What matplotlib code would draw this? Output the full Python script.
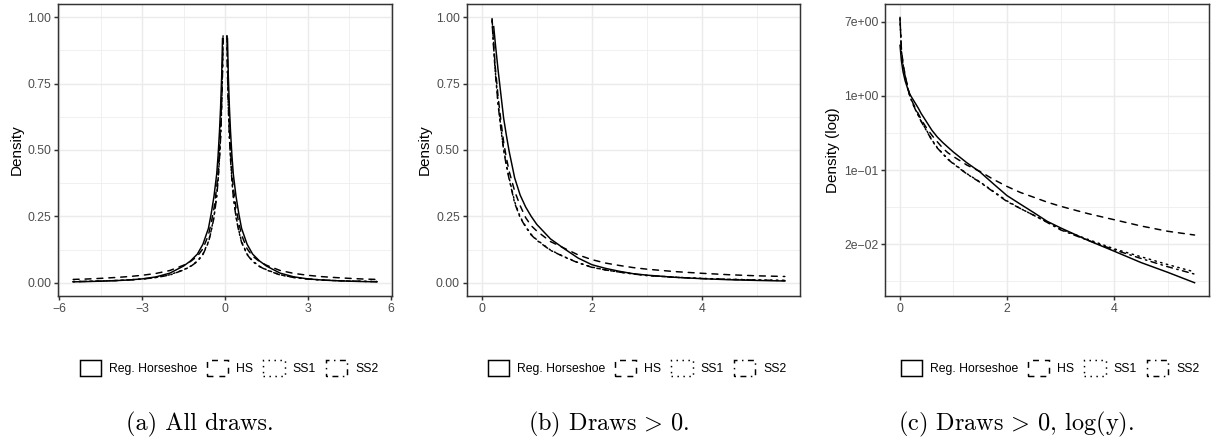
import numpy as np
import matplotlib as mpl
mpl.use('Agg')
import matplotlib.pyplot as plt
from matplotlib.patches import Patch
from matplotlib.ticker import FixedLocator, FixedFormatter, MultipleLocator, NullFormatter

plt.rcParams.update({
    "font.family": "Liberation Sans",
    "mathtext.fontset": "cm",
})

# Density of the positive draws (panels b and c)
x_pos = [0.005, 0.03, 0.06, 0.10, 0.15, 0.19, 0.22, 0.25, 0.30, 0.35, 0.40, 0.45,
         0.50, 0.60, 0.70, 0.80, 0.90, 1.00, 1.25, 1.50, 1.75, 2.00, 2.25, 2.50,
         2.75, 3.00, 3.50, 4.00, 4.50, 5.00, 5.50]
reg_hs_pos = [3.9, 2.6, 1.93, 1.50, 1.20, 1.04, 0.965, 0.90, 0.80, 0.71, 0.62, 0.555,
              0.495, 0.395, 0.33, 0.285, 0.25, 0.22, 0.165, 0.128, 0.093, 0.068, 0.054, 0.043,
              0.034, 0.0285, 0.0205, 0.0152, 0.0112, 0.0086, 0.0065]
hs_pos = [7.8, 3.6, 2.4, 1.75, 1.25, 0.995, 0.90, 0.81, 0.70, 0.61, 0.53, 0.47,
          0.42, 0.345, 0.29, 0.245, 0.215, 0.195, 0.155, 0.13, 0.105, 0.087, 0.074, 0.065,
          0.057, 0.051, 0.042, 0.0355, 0.030, 0.026, 0.0235]
ss1_pos = [8.3, 3.4, 2.35, 1.72, 1.23, 0.99, 0.885, 0.795, 0.675, 0.585, 0.505, 0.445,
           0.395, 0.305, 0.248, 0.212, 0.182, 0.162, 0.123, 0.098, 0.076, 0.059, 0.048, 0.040,
           0.0335, 0.0275, 0.021, 0.0162, 0.0131, 0.0106, 0.0087]
ss2_pos = [8.0, 3.3, 2.3, 1.7, 1.22, 0.985, 0.88, 0.79, 0.67, 0.58, 0.50, 0.44,
           0.39, 0.30, 0.245, 0.21, 0.18, 0.16, 0.122, 0.097, 0.075, 0.058, 0.048, 0.040,
           0.033, 0.027, 0.0205, 0.0158, 0.0125, 0.0100, 0.0082]

# Density of all draws (panel a), given on |x| and mirrored around zero
x_abs = [0, 0.02, 0.05, 0.07, 0.09, 0.12, 0.16, 0.2, 0.25, 0.3, 0.4, 0.5, 0.6, 0.8,
         1.0, 1.25, 1.5, 2.0, 2.5, 3.0, 3.5, 4.0, 4.5, 5.0, 5.5]
reg_hs_all = [1.95, 1.5, 1.12, 1.02, 0.92, 0.78, 0.66, 0.57, 0.48, 0.41, 0.325, 0.26, 0.205, 0.145,
              0.108, 0.082, 0.063, 0.036, 0.022, 0.0145, 0.0103, 0.0077, 0.0058, 0.0044, 0.0033]
hs_all = [3.9, 2.0, 1.25, 0.93, 0.82, 0.70, 0.58, 0.50, 0.42, 0.36, 0.28, 0.225, 0.18, 0.128,
          0.100, 0.080, 0.066, 0.046, 0.035, 0.028, 0.023, 0.0195, 0.0165, 0.014, 0.0125]
ss1_all = [4.1, 2.0, 1.3, 0.93, 0.80, 0.67, 0.55, 0.47, 0.39, 0.33, 0.25, 0.197, 0.155, 0.108,
           0.082, 0.062, 0.049, 0.030, 0.020, 0.014, 0.0105, 0.0082, 0.0066, 0.0054, 0.0045]
ss2_all = [4.0, 2.0, 1.28, 0.92, 0.79, 0.66, 0.545, 0.465, 0.385, 0.325, 0.245, 0.194, 0.152, 0.106,
           0.080, 0.061, 0.048, 0.029, 0.0195, 0.0137, 0.0102, 0.0079, 0.0063, 0.0051, 0.0042]

labels = ["Reg. Horseshoe", "HS", "SS1", "SS2"]
linestyles = ["-", (0, (4, 4)), (0, (1, 3)), (0, (1, 3, 4, 3))]
captions = ["(a) All draws.",
            r"(b) Draws$\,>\,$0.",
            r"(c) Draws$\,>\,$0, log(y)."]

LW = 1.07
GRID = "#EBEBEB"
DARK = "#333333"


def mirror(x, y):
    x = np.asarray(x, float)
    y = np.asarray(y, float)
    return np.concatenate([-x[:0:-1], x]), np.concatenate([y[:0:-1], y])


def clip_above(y, top=1.0):
    # values outside the y limits are dropped, breaking the line
    y = np.asarray(y, float).copy()
    y[y > top] = np.nan
    return y


def style_axes(ax):
    ax.set_facecolor("white")
    ax.set_axisbelow(True)
    ax.grid(which="major", color=GRID, lw=LW)
    ax.grid(which="minor", color=GRID, lw=LW / 2)
    for sp in ax.spines.values():
        sp.set_color(DARK)
        sp.set_linewidth(LW)
    ax.tick_params(which="major", length=2.75, width=LW, color=DARK,
                   labelcolor="#4D4D4D", labelsize=8.8, pad=2.2)
    ax.tick_params(which="minor", length=0)


fig = plt.figure(figsize=(12.14, 4.38), dpi=100)
W, H = 1214, 438
boxes = [(58, 392), (466.7, 800), (885.3, 1209.3)]
axes = [fig.add_axes([l / W, (H - 296) / H, (r - l) / W, 292 / H]) for l, r in boxes]

series_all = [reg_hs_all, hs_all, ss1_all, ss2_all]
series_pos = [reg_hs_pos, hs_pos, ss1_pos, ss2_pos]

# (a) all draws
ax = axes[0]
for vals, ls in zip(series_all, linestyles):
    xx, yy = mirror(x_abs, vals)
    ax.plot(xx, clip_above(yy), color="black", lw=LW, ls=ls, dash_capstyle="round")
xmax = max(x_abs)
ax.set_xlim(-xmax * 1.1, xmax * 1.1)
ax.xaxis.set_major_locator(FixedLocator([-6, -3, 0, 3, 6]))
ax.xaxis.set_minor_locator(FixedLocator([-4.5, -1.5, 1.5, 4.5]))

# (b) positive draws
ax = axes[1]
for vals, ls in zip(series_pos, linestyles):
    ax.plot(x_pos, clip_above(vals), color="black", lw=LW, ls=ls, dash_capstyle="round")

for ax in axes[:2]:
    ax.set_ylim(-0.05, 1.05)
    ax.yaxis.set_major_locator(FixedLocator([0, 0.25, 0.5, 0.75, 1.0]))
    ax.yaxis.set_major_formatter(FixedFormatter(["0.00", "0.25", "0.50", "0.75", "1.00"]))
    ax.yaxis.set_minor_locator(MultipleLocator(0.125))
    ax.set_ylabel("Density", fontsize=11, labelpad=2.75)

# (c) positive draws, log y
ax = axes[2]
for vals, ls in zip(series_pos, linestyles):
    ax.plot(x_pos, vals, color="black", lw=LW, ls=ls, dash_capstyle="round")
ax.set_yscale("log")
lo = np.log(min(min(s) for s in series_pos))
hi = np.log(max(max(s) for s in series_pos))
pad = 0.05 * (hi - lo)
ax.set_ylim(np.exp(lo - pad), np.exp(hi + pad))
ax.yaxis.set_major_locator(FixedLocator(np.exp([2, 0, -2, -4])))
ax.yaxis.set_major_formatter(FixedFormatter(["7e+00", "1e+00", "1e\u221201", "2e\u221202"]))
ax.yaxis.set_minor_locator(FixedLocator(np.exp([1, -1, -3, -5])))
ax.yaxis.set_minor_formatter(NullFormatter())
ax.set_ylabel("Density (log)", fontsize=11, labelpad=2.75)

for ax in axes[1:]:
    span = max(x_pos) - min(x_pos)
    ax.set_xlim(min(x_pos) - 0.05 * span, max(x_pos) + 0.05 * span)
    ax.xaxis.set_major_locator(FixedLocator([0, 2, 4]))
    ax.xaxis.set_minor_locator(FixedLocator([1, 3, 5]))

for ax in axes:
    style_axes(ax)

# legends and captions under each panel
handles = [Patch(facecolor="none", edgecolor="black", lw=LW, ls=ls) for ls in linestyles]
legend_x = [229, 637, 1050]
caption_x = [200, 609, 1016]
for lx, cx, cap in zip(legend_x, caption_x, captions):
    fig.legend(handles, labels, loc="center", bbox_to_anchor=(lx / W, (H - 368) / H),
               ncol=4, frameon=False, fontsize=8.8, handlelength=1.75, handleheight=1.75,
               handletextpad=0.65, columnspacing=0.8, borderpad=0)
    fig.text(cx / W, (H - 424) / H, cap, fontsize=17.5, family="cmr10",
             ha="center", va="center")

fig.savefig("out.png", dpi=100, facecolor="white")
